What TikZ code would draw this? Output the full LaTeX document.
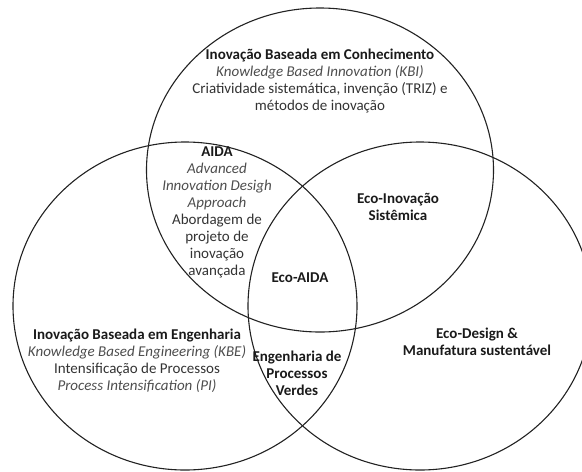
\documentclass[tikz,border=0pt]{standalone}
\usepackage{fontspec}
\setmainfont{Carlito}
\usetikzlibrary{shapes.geometric}
\definecolor{ink}{HTML}{1A1A1A}
\definecolor{bodytext}{HTML}{333333}
\definecolor{muted}{HTML}{4D4D4D}
\definecolor{ringline}{HTML}{222222}

\begin{document}
\begin{tikzpicture}[x=1pt,y=1pt,
  font=\fontsize{15}{17}\selectfont, text=bodytext,
  ring/.style={ellipse,draw=ringline,line width=1.1pt,inner sep=0pt},
  region/.style={align=center,inner sep=0pt},
  head/.style={region,font=\bfseries\fontsize{15}{17}\selectfont,text=ink}
]
% pixel grid of the 582 x 472 reference, y pointing down as negative values
\path[use as bounding box] (0,0) rectangle (582,-472);
\clip (0,0) rectangle (582,-472);

\node[ring,minimum width=347,minimum height=324] (kbicircle) at (320,-170) {};
\node[ring,minimum width=344,minimum height=328] (kbecircle) at (185,-306) {};
\node[ring,minimum width=344,minimum height=328] (ecocircle) at (420,-306) {};

\node[region] (kbi) at (320,-81)
  {\textbf{\color{ink}Inovação Baseada em Conhecimento}\\
   \textit{\color{muted}Knowledge Based Innovation (KBI)}\\
   Criatividade sistemática, invenção (TRIZ) e\\
   métodos de inovação};
\node[region] (aida) at (217,-212)
  {\textbf{\color{ink}AIDA}\\
   \textit{\color{muted}Advanced}\\
   \textit{\color{muted}Innovation Desigh}\\
   \textit{\color{muted}Approach}\\
   Abordagem de\\projeto de\\inovação\\avançada};
\node[head] (ecoinov) at (398,-207) {Eco-Inovação\\Sistêmica};
\node[head] (ecoaida) at (300,-278) {Eco-AIDA};
\node[region] (kbe) at (137,-361)
  {\textbf{\color{ink}Inovação Baseada em Engenharia}\\
   \textit{\color{muted}Knowledge Based Engineering (KBE)}\\
   Intensificação de Processos\\
   \textit{\color{muted}Process Intensification (PI)}};
\node[head] (verdes) at (297,-373) {Engenharia de\\Processos\\Verdes};
\node[head] (ecodesign) at (477,-342) {Eco-Design \&\\Manufatura sustentável};
\end{tikzpicture}
\end{document}
